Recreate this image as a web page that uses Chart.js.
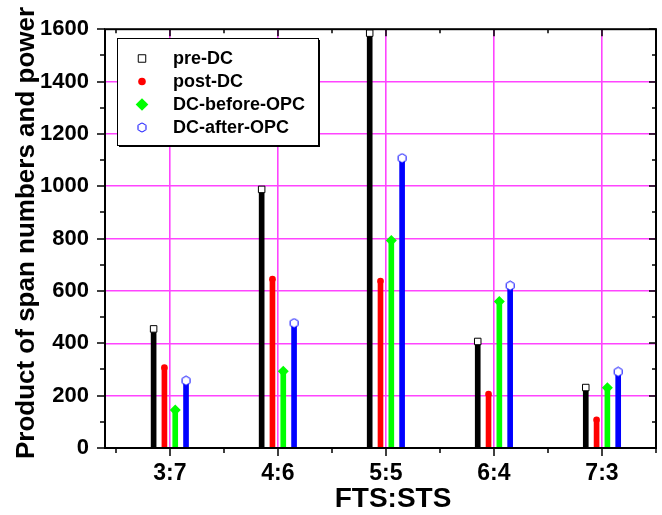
<!DOCTYPE html>
<html>
<head>
<meta charset="utf-8">
<script src="https://cdn.jsdelivr.net/npm/chart.js@4.4.1/dist/chart.umd.min.js"></script>
<style>
  html, body { margin: 0; padding: 0; background: #fff; }
</style>
</head>
<body>
<canvas id="chart" width="662" height="515"></canvas>
<script>
// ----------------------
// DATA
// ----------------------
const categories = ['3:7', '4:6', '5:5', '6:4', '7:3'];
const categoryPos = [3, 4, 5, 6, 7];
const preDC = [455, 988, 1585, 407, 231];
const postDC = [307, 645, 638, 206, 108];
const dcBeforeOPC = [145, 293, 793, 560, 230];
const dcAfterOPC = [257, 477, 1107, 620, 291];
const yTickValues = [0, 200, 400, 600, 800, 1000, 1200, 1400, 1600];
const xTitle = 'FTS:STS';
const yTitle = 'Product of span numbers and power';

// ----------------------
// STYLE
// ----------------------
const FONT = 'Liberation Sans, Arial, sans-serif';
const GRID = '#ff44ff';
const offsets = [-0.15, -0.05, 0.05, 0.15];

// hexagon marker (pointy top), open
const hexagon = (() => {
  const c = document.createElement('canvas');
  c.width = 11; c.height = 11;
  const g = c.getContext('2d');
  g.beginPath();
  for (let i = 0; i < 6; i++) {
    const a = Math.PI / 2 + i * Math.PI / 3;
    const px = 5.5 + 4.6 * Math.cos(a);
    const py = 5.5 - 4.6 * Math.sin(a);
    i ? g.lineTo(px, py) : g.moveTo(px, py);
  }
  g.closePath();
  g.fillStyle = '#fff';
  g.fill();
  g.strokeStyle = '#0000ff';
  g.lineWidth = 1;
  g.stroke();
  return c;
})();

const series = [
  { label: 'pre-DC', values: preDC, color: '#000000',
    point: { pointStyle: 'rect', radius: 4.6, backgroundColor: '#fff', borderColor: '#000', borderWidth: 1 } },
  { label: 'post-DC', values: postDC, color: '#ff0000',
    point: { pointStyle: 'circle', radius: 3.3, backgroundColor: '#ff0000', borderColor: '#ff0000', borderWidth: 0 } },
  { label: 'DC-before-OPC', values: dcBeforeOPC, color: '#00ff00',
    point: { pointStyle: 'rectRot', radius: 5.5, backgroundColor: '#00ff00', borderColor: '#00ff00', borderWidth: 0 } },
  { label: 'DC-after-OPC', values: dcAfterOPC, color: '#0000ff',
    point: { pointStyle: hexagon, radius: 5, backgroundColor: '#fff', borderColor: '#0000ff', borderWidth: 1 } }
];

const datasets = [];
series.forEach((s, i) => {
  const pts = s.values.map((v, k) => ({ x: categoryPos[k] + offsets[i], y: v }));
  datasets.push({
    type: 'bar', label: s.label, data: pts, backgroundColor: s.color,
    barThickness: 5, grouped: false, order: 2
  });
  datasets.push({
    type: 'line', label: s.label + ' marker', data: pts, showLine: false, order: 1,
    pointStyle: s.point.pointStyle, pointRadius: s.point.radius,
    pointBackgroundColor: s.point.backgroundColor, pointBorderColor: s.point.borderColor,
    pointBorderWidth: s.point.borderWidth, pointHoverRadius: s.point.radius
  });
});

// ----------------------
// PLUGINS
// ----------------------
const framePlugin = {
  id: 'frame',
  afterDatasetsDraw(chart) {
    const { ctx, chartArea: a, scales: { x, y } } = chart;
    ctx.save();
    ctx.strokeStyle = '#000';
    ctx.lineWidth = 2;
    ctx.strokeRect(a.left, a.top, a.right - a.left, a.bottom - a.top);
    ctx.lineWidth = 1.5;
    ctx.beginPath();
    // y ticks: major at each label, minor halfway
    for (let v = 0; v <= 1600; v += 100) {
      const py = Math.round(y.getPixelForValue(v));
      const len = v % 200 === 0 ? 8 : 5;
      ctx.moveTo(a.left, py); ctx.lineTo(a.left - len, py);
      ctx.moveTo(a.right, py); ctx.lineTo(a.right - len + 1, py);
    }
    // x ticks
    for (let v = 2.5; v <= 7.5; v += 0.5) {
      const px = Math.round(x.getPixelForValue(v));
      const major = Number.isInteger(v);
      const len = major ? 8 : 5;
      ctx.moveTo(px, a.bottom); ctx.lineTo(px, a.bottom + len);
      ctx.moveTo(px, a.top); ctx.lineTo(px, a.top + len - 1);
    }
    ctx.stroke();

    // axis titles
    ctx.fillStyle = '#000';
    ctx.textAlign = 'center';
    ctx.textBaseline = 'middle';
    ctx.font = 'bold 28px ' + FONT;
    ctx.fillText(xTitle, 393, 499);
    ctx.translate(27, 233);
    ctx.rotate(-Math.PI / 2);
    ctx.font = 'bold 26px ' + FONT;
    ctx.fillText(yTitle, 0, 0);
    ctx.restore();
  },
  afterDraw(chart) {
    const { ctx } = chart;
    const box = { left: 117, top: 38, width: 201, height: 107 };
    ctx.save();
    ctx.fillStyle = '#fff';
    ctx.fillRect(box.left, box.top, box.width, box.height);
    ctx.fillStyle = '#000';
    ctx.fillRect(box.left + 2, box.top + box.height, box.width, 2);
    ctx.fillRect(box.left + box.width, box.top + 2, 2, box.height);
    ctx.strokeStyle = '#000';
    ctx.lineWidth = 1;
    ctx.strokeRect(box.left + 0.5, box.top + 0.5, box.width, box.height);
    ctx.font = 'bold 18px ' + FONT;
    ctx.textBaseline = 'middle';
    ctx.textAlign = 'left';
    series.forEach((s, i) => {
      const cy = 58.5 + i * 23;
      ctx.fillStyle = s.point.backgroundColor;
      ctx.strokeStyle = s.point.borderColor;
      ctx.lineWidth = s.point.borderWidth;
      Chart.helpers.drawPoint(ctx, {
        pointStyle: s.point.pointStyle, radius: s.point.radius * 1.15,
        borderWidth: s.point.borderWidth, rotation: 0
      }, 142, cy);
      ctx.fillStyle = '#000';
      ctx.fillText(s.label, 173, cy + 1);
    });
    ctx.restore();
  }
};

new Chart(document.getElementById('chart'), {
  data: { datasets },
  options: {
    responsive: false,
    animation: false,
    events: [],
    layout: { padding: { top: 29, right: 1, left: 0, bottom: 0 } },
    plugins: { legend: { display: false }, tooltip: { enabled: false } },
    scales: {
      x: {
        type: 'linear', min: 2.4, max: 7.5, offset: false,
        afterFit: (s) => { s.height = 67; },
        afterBuildTicks: (s) => { s.ticks = categoryPos.map(v => ({ value: v })); },
        ticks: {
          color: '#000', padding: 12, autoSkip: false, maxRotation: 0,
          font: { family: FONT, size: 23, weight: 'bold' },
          callback: (v) => categories[categoryPos.indexOf(v)] ?? ''
        },
        grid: { color: GRID, lineWidth: 1.6, drawTicks: false, offset: false },
        border: { display: false }
      },
      y: {
        min: 0, max: 1600,
        afterFit: (s) => { s.width = 105; },
        afterBuildTicks: (s) => { s.ticks = yTickValues.map(v => ({ value: v })); },
        ticks: {
          color: '#000', padding: 16,
          font: { family: FONT, size: 22, weight: 'bold' },
          callback: (v) => String(v)
        },
        grid: {
          drawTicks: false, lineWidth: 1.6,
          color: (c) => (c.tick && (c.tick.value === 0 || c.tick.value === 1600)) ? 'rgba(0,0,0,0)' : GRID
        },
        border: { display: false }
      }
    }
  },
  plugins: [framePlugin]
});
</script>
</body>
</html>
